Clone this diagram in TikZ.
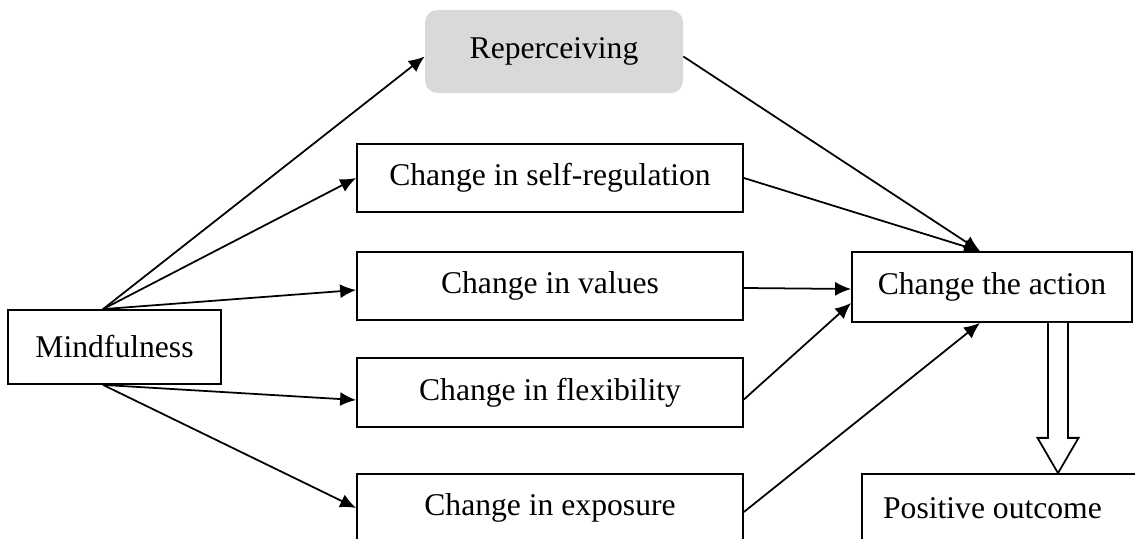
\documentclass[tikz,border=0pt]{standalone}
\usepackage{fontspec}
\setmainfont{Liberation Serif}
\usepackage{tikz}
\usetikzlibrary{arrows.meta,calc}
\definecolor{softgray}{HTML}{D9D9D9}
\tikzset{
  boxnode/.style={draw=black, line width=1pt, fill=white, minimum width=7.72cm, minimum height=1.36cm, inner sep=2pt, font=\fontsize{18}{21}\selectfont},
  graynode/.style={fill=softgray, rounded corners=7pt, minimum width=5.16cm, minimum height=1.66cm, font=\fontsize{18}{21}\selectfont},
  link/.style={black, line width=1pt, -{Latex[length=3.2mm,width=2.8mm]}},
  hollowarrow/.style={draw=black, fill=white, line width=1pt, line join=miter}
}
\begin{document}
\begin{tikzpicture}
  \clip (0,0) rectangle (22.7,-10.78);
  \node[boxnode, minimum width=4.26cm, minimum height=1.48cm] (mind) at (2.29,-6.94) {Mindfulness};
  \node[graynode] (reperc) at (11.08,-1.03) {Reperceiving};
  \node[boxnode] (selfreg) at (11.0,-3.56) {Change in self-regulation};
  \node[boxnode] (values) at (11.0,-5.72) {Change in values};
  \node[boxnode, minimum height=1.38cm] (flex) at (11.0,-7.85) {Change in flexibility};
  \node[boxnode] (expo) at (11.0,-10.16) {Change in exposure};
  \node[boxnode, minimum width=5.6cm, minimum height=1.4cm] (action) at (19.84,-5.74) {Change the action};
  \node[boxnode, minimum width=5.52cm] (outcome) at (20.0,-10.16) {\hspace*{-0.3cm}Positive outcome};
  % from mindfulness to the five changes
  \draw[link] ([xshift=-0.23cm]mind.north) -- ([yshift=-0.1cm]reperc.west);
  \draw[link] ([xshift=-0.23cm]mind.north) -- (selfreg.west);
  \draw[link] ([xshift=-0.23cm]mind.north) -- ([yshift=-0.08cm]values.west);
  \draw[link] ([xshift=-0.23cm]mind.south) -- ([yshift=-0.15cm]flex.west);
  \draw[link] ([xshift=-0.23cm]mind.south) -- (expo.west);
  % from the changes to the action
  \draw[link] ([yshift=-0.1cm]reperc.east) -- ([xshift=-0.24cm]action.north);
  \draw[link] (selfreg.east) -- ([xshift=-0.24cm]action.north);
  \draw[link] ([yshift=-0.04cm]values.east) -- ([yshift=-0.04cm]action.west);
  \draw[link] ([yshift=-0.14cm]flex.east) -- ([yshift=-0.32cm]action.west);
  \draw[link] ([yshift=-0.08cm]expo.east) -- ([xshift=-0.24cm]action.south);
  % hollow arrow down to the outcome
  \coordinate (fattop) at ([xshift=1.32cm]action.south);
  \coordinate (fattip) at (fattop |- outcome.north);
  \draw[hollowarrow] ($(fattop)+(-0.2,0)$) -- ($(fattop)+(-0.2,-2.3)$) -- ($(fattop)+(-0.41,-2.3)$)
    -- (fattip) -- ($(fattop)+(0.41,-2.3)$) -- ($(fattop)+(0.2,-2.3)$) -- ($(fattop)+(0.2,0)$);
\end{tikzpicture}
\end{document}
